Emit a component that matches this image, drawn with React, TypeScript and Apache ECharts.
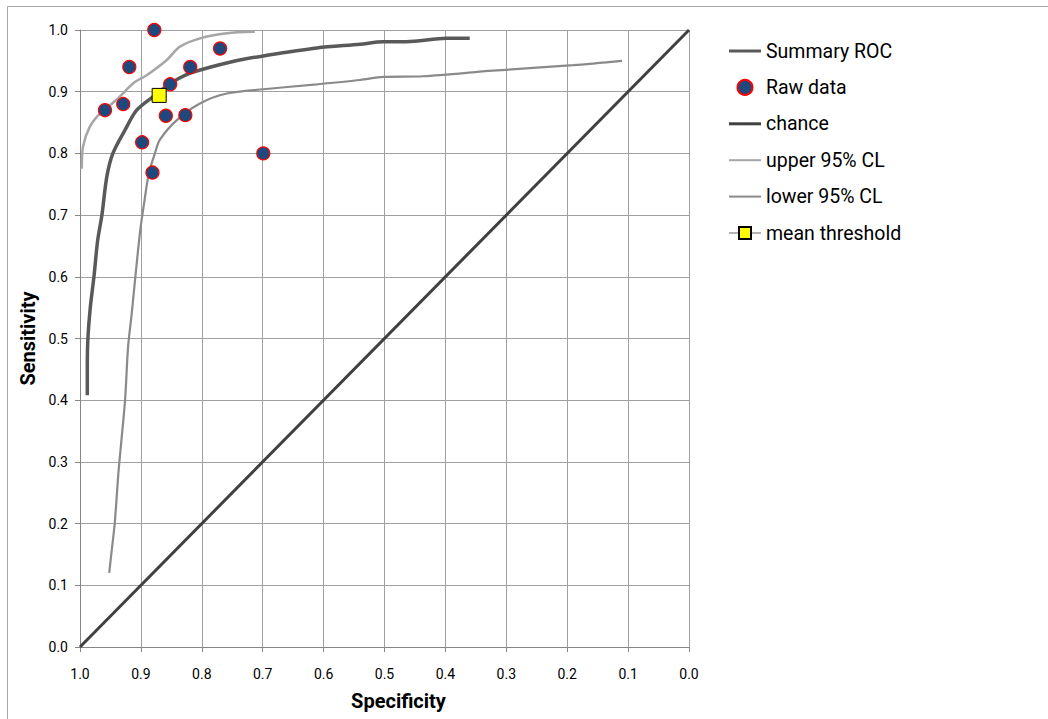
import { useEffect, useRef } from 'react';
import * as echarts from 'echarts';

// Summary ROC curve (specificity, sensitivity)
const rocSpecificity = [0.988, 0.988, 0.987, 0.983, 0.977, 0.971, 0.964, 0.956, 0.946, 0.926, 0.907, 0.88, 0.852, 0.819, 0.749, 0.693, 0.611, 0.54, 0.502, 0.464, 0.398, 0.36];
const rocSensitivity = [0.408, 0.454, 0.5, 0.551, 0.601, 0.659, 0.7, 0.762, 0.8, 0.838, 0.87, 0.892, 0.913, 0.93, 0.949, 0.959, 0.971, 0.977, 0.981, 0.981, 0.9865, 0.9865];

// Upper 95% confidence limit
const upperSpecificity = [0.997, 0.995, 0.984, 0.967, 0.94, 0.912, 0.89, 0.858, 0.836, 0.803, 0.759, 0.713];
const upperSensitivity = [0.775, 0.811, 0.843, 0.865, 0.887, 0.914, 0.927, 0.951, 0.973, 0.9865, 0.9946, 0.997];

// Lower 95% confidence limit
const lowerSpecificity = [0.952, 0.948, 0.943, 0.937, 0.932, 0.926, 0.921, 0.915, 0.909, 0.901, 0.894, 0.887, 0.877, 0.869, 0.841, 0.803, 0.759, 0.699, 0.611, 0.54, 0.502, 0.437, 0.322, 0.19, 0.11];
const lowerSensitivity = [0.12, 0.156, 0.2, 0.281, 0.335, 0.4, 0.487, 0.541, 0.601, 0.676, 0.724, 0.768, 0.8, 0.822, 0.854, 0.881, 0.897, 0.904, 0.912, 0.919, 0.924, 0.925, 0.934, 0.943, 0.95];

// Chance line
const chanceSpecificity = [1, 0];
const chanceSensitivity = [0, 1];

// Raw study data
const rawSpecificity = [0.878, 0.919, 0.77, 0.819, 0.852, 0.959, 0.929, 0.859, 0.827, 0.898, 0.881, 0.699];
const rawSensitivity = [1.0, 0.94, 0.97, 0.94, 0.912, 0.87, 0.88, 0.861, 0.862, 0.818, 0.769, 0.8];

// Mean threshold
const meanSpecificity = [0.87];
const meanSensitivity = [0.894];

const tickFormat = (v: number) => v.toFixed(1);
const zip = (a: number[], b: number[]) => a.map((v, i) => [v, b[i]]);

export default function App() {
  const ref = useRef<HTMLDivElement>(null);
  useEffect(() => {
    if (!ref.current) return;
    const chart = echarts.init(ref.current, null, { renderer: 'svg' });
    const axisColor = '#868686';
    const gridColor = '#a0a0a0';
    chart.setOption({
      animation: false,
      backgroundColor: '#ffffff',
      textStyle: { fontFamily: 'Roboto' },
      graphic: [
        {
          type: 'rect',
          silent: true,
          z: -10,
          shape: { x: 7.5, y: 6.5, width: 1200, height: 900 },
          style: { fill: 'none', stroke: '#a6a6a6', lineWidth: 1 },
        },
      ],
      grid: { left: 80, top: 30, width: 609, height: 617, containLabel: false, outerBoundsMode: 'none' },
      legend: {
        orient: 'vertical',
        left: 728,
        top: 40,
        padding: 0,
        itemWidth: 32,
        itemHeight: 15,
        itemGap: 14.4,
        selectedMode: false,
        textStyle: { fontSize: 19.5, color: '#000', lineHeight: 22, fontFamily: 'Roboto' },
        data: [
          { name: 'Summary ROC', icon: 'path://M0,0H32V3H0Z', itemStyle: { borderWidth: 0 } },
          { name: 'Raw data' },
          { name: 'chance', icon: 'path://M0,0H32V3H0Z', itemStyle: { borderWidth: 0 } },
          { name: 'upper 95% CL', icon: 'path://M0,0H32V2H0Z', itemStyle: { borderWidth: 0 } },
          { name: 'lower 95% CL', icon: 'path://M0,0H32V2H0Z', itemStyle: { borderWidth: 0 } },
          { name: 'mean threshold' },
        ],
      },
      xAxis: {
        type: 'value',
        min: 0,
        max: 1,
        interval: 0.1,
        inverse: true,
        name: 'Specificity',
        nameLocation: 'middle',
        nameGap: 44,
        nameTextStyle: { fontSize: 20, fontWeight: 'bold', color: '#000', padding: [0, 0, 0, 28] },
        axisLine: { show: true, onZero: false, lineStyle: { color: axisColor, width: 1 } },
        axisTick: { show: true, inside: false, length: 5, lineStyle: { color: axisColor } },
        axisLabel: { fontSize: 14, color: '#000', margin: 20, formatter: tickFormat },
        splitLine: { show: true, lineStyle: { color: gridColor, width: 1 } },
      },
      yAxis: {
        type: 'value',
        min: 0,
        max: 1,
        interval: 0.1,
        name: 'Sensitivity',
        nameLocation: 'middle',
        nameGap: 42,
        nameRotate: 90,
        nameTextStyle: { fontSize: 20, fontWeight: 'bold', color: '#000' },
        axisLine: { show: true, onZero: false, lineStyle: { color: axisColor, width: 1 } },
        axisTick: { show: true, inside: false, length: 5, lineStyle: { color: axisColor } },
        axisLabel: { fontSize: 14, color: '#000', margin: 12, formatter: tickFormat },
        splitLine: { show: true, lineStyle: { color: gridColor, width: 1 } },
      },
      series: [
        {
          name: 'Summary ROC',
          type: 'line',
          data: zip(rocSpecificity, rocSensitivity),
          showSymbol: false,
          symbol: 'none',
          smooth: 0.3,
          itemStyle: { color: '#595959' },
          lineStyle: { color: '#595959', width: 3.5 },
          z: 3,
        },
        {
          name: 'Raw data',
          type: 'scatter',
          data: zip(rawSpecificity, rawSensitivity),
          symbol: 'circle',
          symbolSize: 13,
          itemStyle: { color: '#1f497d', borderColor: '#ff0000', borderWidth: 1.2, opacity: 1 },
          z: 6,
        },
        {
          name: 'chance',
          type: 'line',
          data: zip(chanceSpecificity, chanceSensitivity),
          showSymbol: false,
          symbol: 'none',
          itemStyle: { color: '#404040' },
          lineStyle: { color: '#404040', width: 3 },
          z: 3,
        },
        {
          name: 'upper 95% CL',
          type: 'line',
          data: zip(upperSpecificity, upperSensitivity),
          showSymbol: false,
          symbol: 'none',
          smooth: 0.3,
          itemStyle: { color: '#a6a6a6' },
          lineStyle: { color: '#a6a6a6', width: 2.5 },
          z: 3,
        },
        {
          name: 'lower 95% CL',
          type: 'line',
          data: zip(lowerSpecificity, lowerSensitivity),
          showSymbol: false,
          symbol: 'none',
          smooth: 0.3,
          itemStyle: { color: '#8a8a8a' },
          lineStyle: { color: '#8a8a8a', width: 2.2 },
          z: 3,
        },
        {
          name: 'mean threshold',
          type: 'line',
          data: zip(meanSpecificity, meanSensitivity),
          showSymbol: true,
          symbol: 'rect',
          symbolSize: 14,
          itemStyle: { color: '#ffff00', borderColor: '#000000', borderWidth: 1 },
          lineStyle: { color: '#b3b3b3', width: 3 },
          z: 8,
        },
      ],
    });
    return () => chart.dispose();
  }, []);
  return (
    <div
      ref={ref}
      style={{ position: 'absolute', left: 0, top: 0, width: 1048, height: 719, background: '#fff' }}
    />
  );
}
